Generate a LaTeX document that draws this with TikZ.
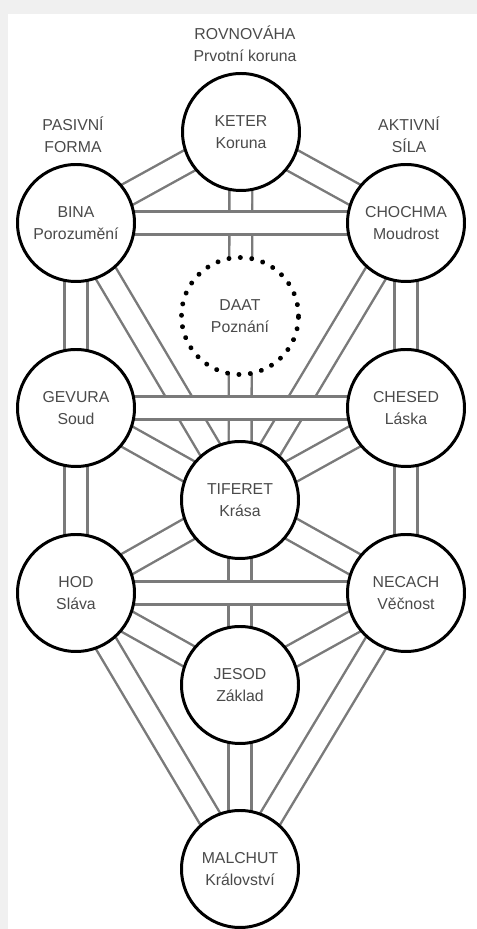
\documentclass[tikz,border=0pt]{standalone}
\usepackage{fontspec}
\setmainfont{Liberation Sans}
\usetikzlibrary{backgrounds}
\definecolor{pathgrey}{HTML}{7A7A7A}
\definecolor{textgrey}{HTML}{4A4A4A}
\definecolor{framegrey}{HTML}{F0F0F0}
\begin{document}
\begin{tikzpicture}
    \tikzstyle{sefira} = [circle, draw=black, line width=1.7pt, fill=white, minimum size=2.34cm, inner sep=0pt, align=center, text=textgrey, font=\fontsize{9}{12.5}\selectfont]
    \tikzstyle{hidden} = [sefira, line cap=round, dash pattern=on 0.01pt off 6.5pt, line width=2.8pt]
    \tikzstyle{channel} = [draw=pathgrey, line width=1.4pt, double=white, double distance=11.6pt, shorten <=-3pt, shorten >=-3pt]
    \tikzstyle{heading} = [align=center, text=textgrey, font=\fontsize{9}{12.5}\selectfont]
    \useasboundingbox (0,0) rectangle (9.54,18.58);
    \begin{pgfonlayer}{background}
        \fill[framegrey] (0,0) rectangle (9.54,18.58);
        \fill[white] (0.16,0) rectangle (9.54,18.30);
    \end{pgfonlayer}
    \node[heading] (rovnovaha) at (4.9,17.70) {ROVNOVÁHA\\Prvotní koruna};
    \node[heading] (pasivni) at (1.46,15.88) {PASIVNÍ\\FORMA};
    \node[heading] (aktivni) at (8.18,15.88) {AKTIVNÍ\\SÍLA};
    \node[sefira] (keter) at (4.82,15.94) {KETER\\Koruna};
    \node[sefira] (bina) at (1.52,14.12) {BINA\\Porozumění};
    \node[sefira] (chochma) at (8.12,14.12) {CHOCHMA\\Moudrost};
    \node[hidden] (daat) at (4.8,12.26) {DAAT\\Poznání};
    \node[sefira] (gevura) at (1.52,10.42) {GEVURA\\Soud};
    \node[sefira] (chesed) at (8.12,10.42) {CHESED\\Láska};
    \node[sefira] (tiferet) at (4.8,8.58) {TIFERET\\Krása};
    \node[sefira] (hod) at (1.52,6.72) {HOD\\Sláva};
    \node[sefira] (necach) at (8.12,6.72) {NECACH\\Věčnost};
    \node[sefira] (jesod) at (4.8,4.88) {JESOD\\Základ};
    \node[sefira] (malchut) at (4.8,1.20) {MALCHUT\\Království};
    \begin{pgfonlayer}{background}
        \draw[channel] (keter) -- (bina);
        \draw[channel] (keter) -- (chochma);
        \draw[channel] (keter) -- (tiferet);
        \draw[channel] (bina) -- (gevura);
        \draw[channel] (bina) -- (tiferet);
        \draw[channel] (chochma) -- (chesed);
        \draw[channel] (chochma) -- (tiferet);
        \draw[channel] (gevura) -- (tiferet);
        \draw[channel] (gevura) -- (hod);
        \draw[channel] (chesed) -- (tiferet);
        \draw[channel] (chesed) -- (necach);
        \draw[channel] (tiferet) -- (hod);
        \draw[channel] (tiferet) -- (necach);
        \draw[channel] (tiferet) -- (jesod);
        \draw[channel] (hod) -- (jesod);
        \draw[channel] (hod) -- (malchut);
        \draw[channel] (necach) -- (jesod);
        \draw[channel] (necach) -- (malchut);
        \draw[channel] (jesod) -- (malchut);
        \draw[channel] (bina) -- (chochma);
        \draw[channel] (gevura) -- (chesed);
        \draw[channel] (hod) -- (necach);
    \end{pgfonlayer}
\end{tikzpicture}
\end{document}
